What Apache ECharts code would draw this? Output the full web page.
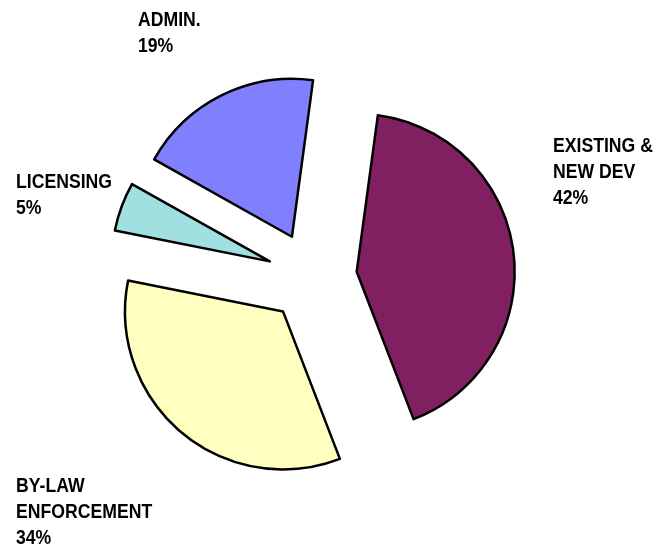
<!DOCTYPE html>
<html>
<head>
<meta charset="utf-8">
<script src="https://cdn.jsdelivr.net/npm/echarts@6/dist/echarts.min.js"></script>
<style>html,body{margin:0;padding:0;background:#fff}#c{width:670px;height:550px}</style>
</head>
<body>
<div id="c"></div>
<script>
const categories = ['EXISTING &\nNEW DEV', 'BY-LAW\nENFORCEMENT', 'LICENSING', 'ADMIN.'];
const values = [42, 34, 5, 19];
const colors = ['#802060', '#FFFFC0', '#A0E0E0', '#8080FF'];
const labelPos = [
  {x: 553, y: 133},
  {x: 16, y: 473},
  {x: 16, y: 169},
  {x: 138, y: 7}
];
const chart = echarts.init(document.getElementById('c'), null, {renderer: 'canvas'});
chart.setOption({
  animation: false,
  backgroundColor: '#fff',
  graphic: categories.map((c, i) => ({
    type: 'text',
    x: labelPos[i].x,
    y: labelPos[i].y,
    scaleX: 0.84,
    silent: true,
    style: {
      text: c + '\n' + values[i] + '%',
      fill: '#000',
      font: 'bold 21px "Liberation Sans", Arial, sans-serif',
      lineHeight: 26,
      align: 'left',
      verticalAlign: 'top'
    }
  })),
  series: [{
    type: 'pie',
    center: [312, 277],
    radius: [0, 158],
    startAngle: 82.3,
    clockwise: true,
    selectedMode: 'multiple',
    selectedOffset: 45,
    emphasis: {scale: false, disabled: true},
    itemStyle: {borderColor: '#000', borderWidth: 2.5},
    label: {show: false},
    labelLine: {show: false},
    data: categories.map((c, i) => ({
      name: c, value: values[i], selected: true,
      itemStyle: {color: colors[i]}
    }))
  }]
});
</script>
</body>
</html>
